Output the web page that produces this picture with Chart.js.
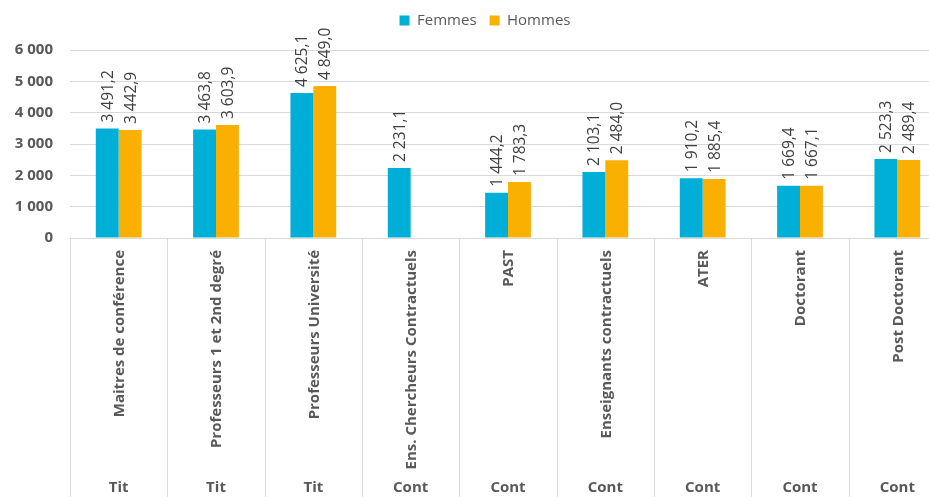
<!DOCTYPE html>
<html>
<head>
  <meta charset="UTF-8">
  <title>Femmes / Hommes par catégorie</title>
  <script src="https://cdn.jsdelivr.net/npm/chart.js"></script>
  <style>
    html, body {
      margin: 0;
      padding: 0;
      background: #ffffff;
      overflow: hidden;
    }
    #chart {
      display: block;
    }
  </style>
</head>
<body>
  <canvas id="chart" width="970" height="497"></canvas>

  <script>
    // Data
    const categories = [
      'Maitres de conférence',
      'Professeurs 1 et 2nd degré',
      'Professeurs Université',
      'Ens. Chercheurs Contractuels',
      'PAST',
      'Enseignants contractuels',
      'ATER',
      'Doctorant',
      'Post Doctorant'
    ];
    const groups = ['Tit', 'Tit', 'Tit', 'Cont', 'Cont', 'Cont', 'Cont', 'Cont', 'Cont'];
    const femmes = [3491.2, 3463.8, 4625.1, 2231.1, 1444.2, 2103.1, 1910.2, 1669.4, 2523.3];
    const hommes = [3442.9, 3603.9, 4849.0, null, 1783.3, 2484.0, 1885.4, 1667.1, 2489.4];
    const yTicks = [0, 1000, 2000, 3000, 4000, 5000, 6000];

    const FONT = '"Open Sans", "DejaVu Sans", sans-serif';
    const GREY = '#595959';

    // French style numbers: "3 491,2" and "6 000"
    function fmt(value, decimals) {
      const parts = value.toFixed(decimals).split('.');
      const int = parts[0].replace(/\B(?=(\d{3})+(?!\d))/g, ' ');
      return parts.length > 1 ? int + ',' + parts[1] : int;
    }

    // legend sits higher and is centred on the whole canvas
    const legendBox = {
      id: 'legendBox',
      afterLayout(chart) {
        const lg = chart.legend;
        if (!lg) return;
        lg.top -= 12;
        lg.bottom -= 12;
        lg.right += 24;
      }
    };

    // value labels above each bar, read bottom to top
    const barLabels = {
      id: 'barLabels',
      afterDatasetsDraw(chart) {
        const ctx = chart.ctx;
        ctx.save();
        ctx.font = '15.5px ' + FONT;
        ctx.fillStyle = '#404040';
        ctx.textAlign = 'left';
        ctx.textBaseline = 'middle';
        chart.data.datasets.forEach((ds, i) => {
          const meta = chart.getDatasetMeta(i);
          meta.data.forEach((bar, j) => {
            const v = ds.data[j];
            if (v === null || v === undefined) return;
            ctx.save();
            ctx.translate(bar.x, bar.y - 6);
            ctx.rotate(-Math.PI / 2);
            ctx.fillText(fmt(v, 1), 0, 1);
            ctx.restore();
          });
        });
        ctx.restore();
      }
    };

    // two level category axis: rotated names, group row, dividers
    const categoryAxis = {
      id: 'categoryAxis',
      afterDraw(chart) {
        const ctx = chart.ctx;
        const x = chart.scales.x;
        const area = chart.chartArea;
        const bottom = chart.height;
        const half = (x.getPixelForValue(1) - x.getPixelForValue(0)) / 2;
        ctx.save();
        ctx.strokeStyle = '#d9d9d9';
        ctx.lineWidth = 1;
        for (let i = 0; i <= categories.length; i++) {
          const px = Math.round(x.getPixelForValue(i) - half) + 0.5;
          ctx.beginPath();
          ctx.moveTo(px, area.bottom);
          ctx.lineTo(px, bottom);
          ctx.stroke();
        }
        ctx.fillStyle = GREY;
        categories.forEach((name, i) => {
          const cx = x.getPixelForValue(i);
          ctx.save();
          ctx.font = 'bold 15px ' + FONT;
          ctx.translate(cx + 1, area.bottom + 12);
          ctx.rotate(-Math.PI / 2);
          ctx.textAlign = 'right';
          ctx.textBaseline = 'middle';
          ctx.fillText(name, 0, 0);
          ctx.restore();

          ctx.font = 'bold 15px ' + FONT;
          ctx.textAlign = 'center';
          ctx.textBaseline = 'middle';
          ctx.fillText(groups[i], cx, bottom - 9);
        });
        ctx.restore();
      }
    };

    new Chart(document.getElementById('chart').getContext('2d'), {
      type: 'bar',
      data: {
        labels: categories,
        datasets: [
          {
            label: 'Femmes',
            data: femmes,
            backgroundColor: '#00AFD8',
            borderWidth: 0,
            categoryPercentage: 0.47,
            barPercentage: 1.0
          },
          {
            label: 'Hommes',
            data: hommes,
            backgroundColor: '#F9B000',
            borderWidth: 0,
            categoryPercentage: 0.47,
            barPercentage: 1.0
          }
        ]
      },
      options: {
        responsive: false,
        animation: false,
        layout: {
          padding: { top: 12, right: 24, left: 0, bottom: 0 }
        },
        scales: {
          x: {
            grid: { display: false },
            border: { display: false },
            ticks: { display: false },
            afterFit(scale) {
              scale.height = 259;
            }
          },
          y: {
            min: 0,
            max: 6000,
            afterBuildTicks(scale) {
              scale.ticks = yTicks.map(v => ({ value: v }));
            },
            afterFit(scale) {
              scale.width = 70;
            },
            grid: {
              color: '#d9d9d9',
              drawTicks: false
            },
            border: { display: false },
            ticks: {
              padding: 17,
              color: GREY,
              font: { family: FONT, size: 15, weight: 'bold' },
              callback: v => fmt(v, 0)
            }
          }
        },
        plugins: {
          legend: {
            position: 'top',
            align: 'center',
            labels: {
              boxWidth: 10,
              boxHeight: 10,
              padding: 13,
              color: GREY,
              font: { family: FONT, size: 15 }
            }
          },
          tooltip: { enabled: false }
        }
      },
      plugins: [legendBox, barLabels, categoryAxis]
    });
  </script>
</body>
</html>
